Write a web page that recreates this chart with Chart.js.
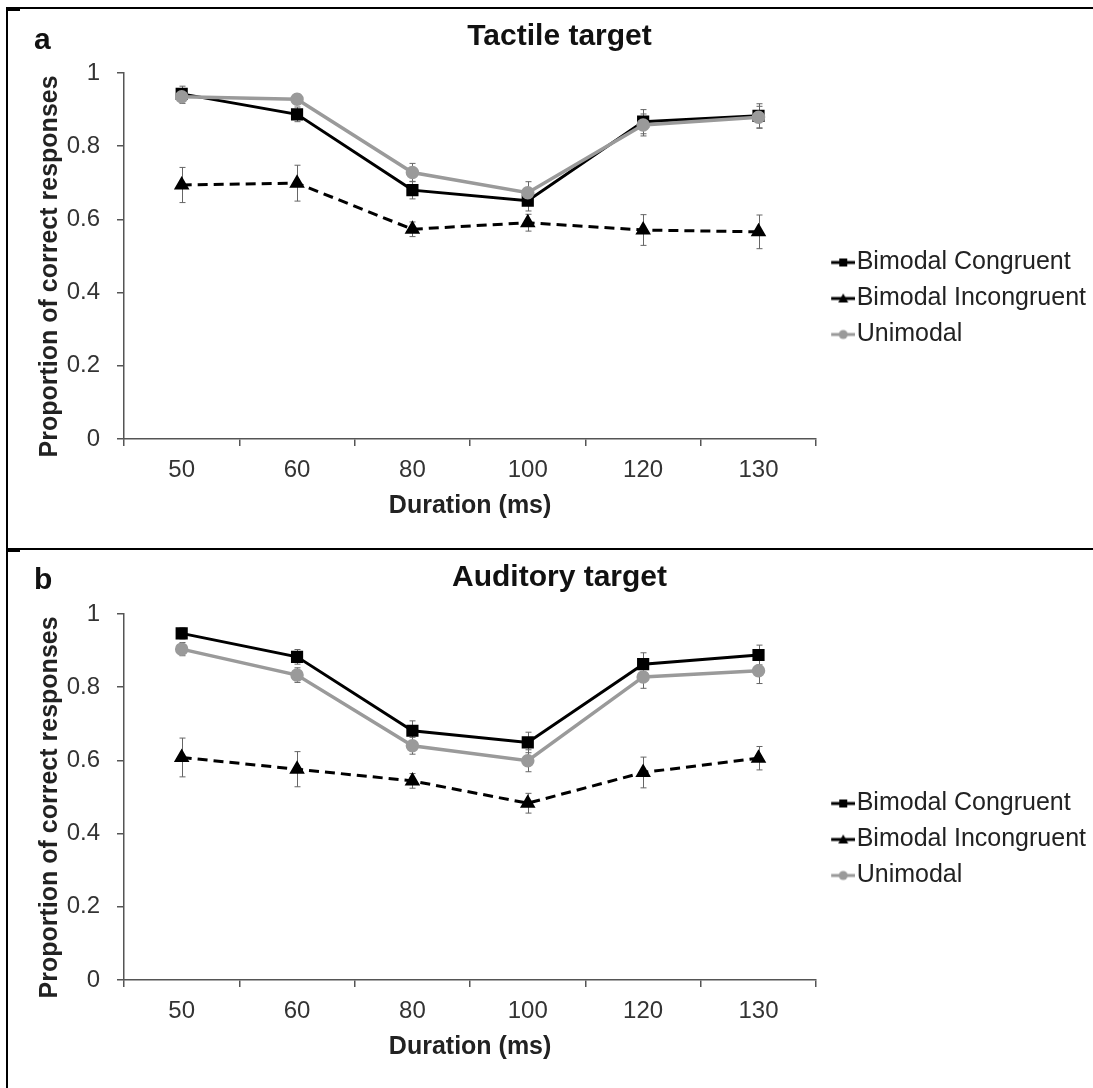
<!DOCTYPE html>
<html lang="en">

<head>
    <meta charset="UTF-8">
    <title>Tactile and auditory target</title>
    <script src="https://cdn.jsdelivr.net/npm/chart.js@4.4.1/dist/chart.umd.min.js"></script>
    <style>
        html, body { margin: 0; padding: 0; background: #fff; }
        body { width: 1093px; height: 1088px; position: relative; overflow: hidden; }
        .panel { position: absolute; left: 0; width: 1093px; height: 547px; }
        .panel canvas { display: block; }
        #panelA { top: 0; }
        #panelB { top: 541px; }
        .rule { position: absolute; background: #000; }
        .letter { position: absolute; left: 34px; font: bold 30px/30px 'Liberation Sans', Arial, sans-serif; color: #111; }
    </style>
</head>

<body>
    <div class="panel" id="panelA"><canvas id="tactileChart" width="1093" height="547"></canvas></div>
    <div class="panel" id="panelB"><canvas id="auditoryChart" width="1093" height="547"></canvas></div>

    <!-- figure frame -->
    <div class="rule" style="left:6px;top:7px;width:1087px;height:2px"></div>
    <div class="rule" style="left:6px;top:7px;width:2px;height:1081px"></div>
    <div class="rule" style="left:6px;top:548px;width:1087px;height:2px"></div>
    <div class="rule" style="left:7px;top:8px;width:13px;height:3px"></div>
    <div class="rule" style="left:7px;top:549px;width:13px;height:3px"></div>

    <div class="letter" style="top:24px">a</div>
    <div class="letter" style="top:564px">b</div>

    <script>
        // Categories
        const durations = ['50', '60', '80', '100', '120', '130'];
        const seriesNames = ['Bimodal Congruent', 'Bimodal Incongruent', 'Unimodal'];

        // Panel a - tactile target (means and error bar half-lengths)
        const tactileCongruent = [0.943, 0.887, 0.680, 0.651, 0.867, 0.883];
        const tactileIncongruent = [0.694, 0.699, 0.573, 0.591, 0.571, 0.566];
        const tactileUnimodal = [0.935, 0.928, 0.728, 0.673, 0.858, 0.879];
        const tactileCongruentErr = [0.021, 0.020, 0.024, 0.028, 0.033, 0.033];
        const tactileIncongruentErr = [0.048, 0.049, 0.020, 0.023, 0.042, 0.046];
        const tactileUnimodalErr = [0.018, 0.014, 0.025, 0.030, 0.030, 0.030];

        // Panel b - auditory target
        const auditoryCongruent = [0.947, 0.883, 0.681, 0.649, 0.863, 0.888];
        const auditoryIncongruent = [0.608, 0.576, 0.544, 0.483, 0.567, 0.606];
        const auditoryUnimodal = [0.904, 0.833, 0.640, 0.599, 0.828, 0.845];
        const auditoryCongruentErr = [0.015, 0.020, 0.027, 0.028, 0.031, 0.027];
        const auditoryIncongruentErr = [0.053, 0.048, 0.020, 0.027, 0.042, 0.032];
        const auditoryUnimodalErr = [0.018, 0.020, 0.023, 0.030, 0.031, 0.035];

        const yTicks = { min: 0, max: 1, step: 0.2 };

        Chart.defaults.font.family = "'Liberation Sans', Arial, sans-serif";
        Chart.defaults.color = '#222';

        // Small line+marker icons for the legend
        function legendIcon(color, shape) {
            const c = document.createElement('canvas');
            c.width = 24;
            c.height = 14;
            const ctx = c.getContext('2d');
            ctx.strokeStyle = color;
            ctx.fillStyle = color;
            ctx.lineWidth = 3;
            ctx.beginPath();
            ctx.moveTo(0, 7);
            ctx.lineTo(24, 7);
            ctx.stroke();
            ctx.beginPath();
            if (shape === 'rect') {
                ctx.rect(8, 3, 8, 8);
            } else if (shape === 'triangle') {
                ctx.moveTo(12, 2);
                ctx.lineTo(17, 11);
                ctx.lineTo(7, 11);
                ctx.closePath();
            } else {
                ctx.arc(12, 7, 4.5, 0, Math.PI * 2);
            }
            ctx.fill();
            return c;
        }
        const legendIcons = [legendIcon('#000', 'rect'), legendIcon('#000', 'triangle'), legendIcon('#9a9a9a', 'circle')];

        // Error bars drawn under the lines
        function makeErrorBars(errors) {
            return {
                id: 'errorBars',
                beforeDatasetsDraw(chart) {
                    const { ctx, scales: { x, y } } = chart;
                    ctx.save();
                    ctx.strokeStyle = '#666';
                    ctx.lineWidth = 1;
                    chart.data.datasets.forEach((ds, i) => {
                        errors[i].forEach((e, j) => {
                            const px = Math.round(x.getPixelForValue(j)) + 0.5;
                            const top = y.getPixelForValue(ds.data[j] + e);
                            const bot = y.getPixelForValue(ds.data[j] - e);
                            ctx.beginPath();
                            ctx.moveTo(px, top);
                            ctx.lineTo(px, bot);
                            ctx.moveTo(px - 3, top);
                            ctx.lineTo(px + 3, top);
                            ctx.moveTo(px - 3, bot);
                            ctx.lineTo(px + 3, bot);
                            ctx.stroke();
                        });
                    });
                    ctx.restore();
                }
            };
        }

        // Move the legend block to where it sits in the figure
        const legendShift = {
            id: 'legendShift',
            afterLayout(chart) {
                const lg = chart.legend;
                lg.left += 15;
                lg.right += 15;
                lg.top += 25;
                lg.bottom += 25;
            }
        };

        function buildChart(canvasId, title, values, errors) {
            return new Chart(document.getElementById(canvasId), {
                type: 'line',
                data: {
                    labels: durations,
                    datasets: [{
                        label: seriesNames[0],
                        data: values[0],
                        borderColor: '#000',
                        borderWidth: 3,
                        pointStyle: 'rect',
                        pointRadius: 6.5,
                        pointBackgroundColor: '#000',
                        pointBorderColor: '#000',
                        order: 2
                    }, {
                        label: seriesNames[1],
                        data: values[1],
                        borderColor: '#000',
                        borderWidth: 3,
                        borderDash: [10, 6],
                        pointStyle: 'triangle',
                        pointRadius: 6,
                        pointBackgroundColor: '#000',
                        pointBorderColor: '#000',
                        order: 1
                    }, {
                        label: seriesNames[2],
                        data: values[2],
                        borderColor: '#9a9a9a',
                        borderWidth: 3.5,
                        pointStyle: 'circle',
                        pointRadius: 5,
                        pointBackgroundColor: '#9a9a9a',
                        pointBorderColor: '#9a9a9a',
                        order: 0
                    }]
                },
                options: {
                    responsive: false,
                    animation: false,
                    layout: { padding: { left: 38, right: 12, top: 0, bottom: 0 } },
                    plugins: {
                        title: {
                            display: true,
                            text: title,
                            color: '#111',
                            font: { size: 30, weight: 'bold' },
                            padding: { top: 18.6, bottom: 18.4 }
                        },
                        legend: {
                            position: 'right',
                            maxWidth: 400,
                            labels: {
                                font: { size: 25 },
                                color: '#222',
                                usePointStyle: true,
                                pointStyleWidth: 2,
                                padding: 11,
                                generateLabels: chart => chart.data.datasets.map((ds, i) => ({
                                    text: ds.label,
                                    pointStyle: legendIcons[i],
                                    fillStyle: 'rgba(0,0,0,0)',
                                    strokeStyle: 'rgba(0,0,0,0)',
                                    lineWidth: 0,
                                    fontColor: '#222',
                                    hidden: false,
                                    datasetIndex: i
                                }))
                            }
                        },
                        tooltip: { enabled: false }
                    },
                    scales: {
                        x: {
                            offset: true,
                            grid: { offset: true, drawOnChartArea: false, tickLength: 7, color: '#555', lineWidth: 1.5 },
                            border: { color: '#555', width: 1.5 },
                            ticks: { font: { size: 24 }, color: '#333', padding: 10 },
                            title: {
                                display: true,
                                text: 'Duration (ms)',
                                color: '#222',
                                font: { size: 25, weight: 'bold' },
                                padding: { top: 0, bottom: 26 }
                            },
                            afterFit(scale) { scale.height = 108; }
                        },
                        y: {
                            min: yTicks.min,
                            max: yTicks.max,
                            grid: { drawOnChartArea: false, tickLength: 7, color: '#555', lineWidth: 1.5 },
                            border: { color: '#555', width: 1.5 },
                            ticks: {
                                stepSize: yTicks.step,
                                font: { size: 24 },
                                color: '#333',
                                padding: 17,
                                callback: v => String(Number(v.toFixed(1)))
                            },
                            title: {
                                display: true,
                                text: 'Proportion of correct responses\u00a0\u00a0\u00a0',
                                color: '#222',
                                font: { size: 25, weight: 'bold', lineHeight: 1 },
                                padding: 0
                            },
                            afterFit(scale) { scale.width = 86; }
                        }
                    }
                },
                plugins: [makeErrorBars(errors), legendShift]
            });
        }

        buildChart('tactileChart', 'Tactile target',
            [tactileCongruent, tactileIncongruent, tactileUnimodal],
            [tactileCongruentErr, tactileIncongruentErr, tactileUnimodalErr]);

        buildChart('auditoryChart', 'Auditory target',
            [auditoryCongruent, auditoryIncongruent, auditoryUnimodal],
            [auditoryCongruentErr, auditoryIncongruentErr, auditoryUnimodalErr]);
    </script>
</body>

</html>
